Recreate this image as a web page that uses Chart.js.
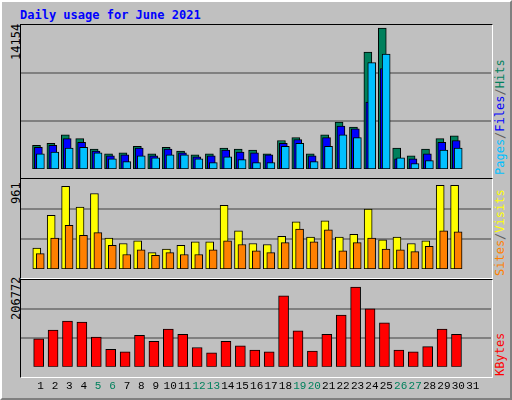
<!DOCTYPE html>
<html><head><meta charset="utf-8">
<script src="https://cdn.jsdelivr.net/npm/chart.js@4"></script>
<style>
body{margin:0;background:#fff}
#wrap{position:absolute;left:0;top:0;width:508px;height:396px;background:#c0c0c0;border-top:2px solid #fff;border-left:2px solid #fff;border-right:2px solid #808080;border-bottom:2px solid #808080}
.t{position:absolute;font-family:"DejaVu Sans Mono",monospace;font-size:12px;white-space:nowrap}
.rot{transform-origin:0 0;transform:rotate(-90deg)}
canvas{position:absolute}
.panel{position:absolute;left:20px;width:471px;border:1px solid #000;border-right-color:#fff;border-bottom-color:#fff}
</style></head><body>
<div id="wrap"></div>
<div class="t" style="left:20px;top:8px;color:#0000ff;font-weight:bold">Daily usage for June 2021</div>
<div class="panel" style="top:24px;height:153px"></div>
<div class="panel" style="top:178px;height:99px"></div>
<div class="panel" style="top:279px;height:97px"></div>
<div class="t rot" style="left:9px;top:60px;">14154</div>
<div class="t rot" style="left:9px;top:204px;">961</div>
<div class="t rot" style="left:9px;top:320px;">206772</div>
<div class="t rot" style="left:493px;top:175px;"><span style="color:#00c0ff">Pages</span><span style="color:#606060">/</span><span style="color:#0000ff">Files</span><span style="color:#606060">/</span><span style="color:#00805c">Hits</span></div>
<div class="t rot" style="left:493px;top:276px;"><span style="color:#ff8000">Sites</span><span style="color:#606060">/</span><span style="color:#ffff00">Visits</span></div>
<div class="t rot" style="left:493px;top:376px;"><span style="color:#ff0000">KBytes</span></div>
<canvas id="c1" style="left:21px;top:25px" width="470" height="152"></canvas>
<canvas id="c2" style="left:21px;top:179px" width="470" height="98"></canvas>
<canvas id="c3" style="left:21px;top:280px" width="470" height="118"></canvas>
<script>
const days=[1,2,3,4,5,6,7,8,9,10,11,12,13,14,15,16,17,18,19,20,21,22,23,24,25,26,27,28,29,30,31];
const weekend=[5,6,12,13,19,20,26,27];
const hits=[2330,2520,3370,2990,1950,1480,1580,2240,1480,2140,1760,1390,1480,2050,1950,1860,1480,2800,3090,1480,3370,4600,4120,11490,13850,2050,1290,1950,2990,3270,0];
const files=[2140,2330,2990,2610,1760,1290,1390,2050,1290,1950,1580,1200,1290,1860,1670,1580,1390,2520,2900,1290,3090,4220,3940,6580,9880,1010,1010,1480,2610,2800,0];
const pages=[1480,1670,2050,2140,1580,1010,730,1290,1100,1390,1390,1010,630,1200,920,630,630,2240,2520,730,2240,3370,3090,10450,11300,1100,540,820,1860,2050,0];
const visits=[223,573,884,660,806,330,272,301,175,214,252,291,291,680,408,272,262,350,505,340,515,340,369,641,311,340,272,301,893,893,0];
const sites=[165,330,466,359,388,252,155,204,146,175,155,155,204,301,262,194,175,282,427,291,417,194,282,330,214,204,185,243,408,398,0];
const kbytes=[66860,87740,108630,106540,71030,41780,35510,75200,60580,89830,77290,45960,33420,60580,50130,39690,35510,169210,85650,37600,77290,123250,190100,137870,104450,39690,35510,48050,89830,77290,0];
const maxes=[14154,961,206772];

function ds(vals,off,color,w,order){return{data:vals.map((v,i)=>({x:days[i]+off,y:v})),backgroundColor:color,borderColor:'#000',borderWidth:1,barThickness:w,grouped:false,borderSkipped:false,order:order};}
function mk(id,sets,max,showX){
  new Chart(document.getElementById(id),{type:'bar',data:{datasets:sets},
  options:{responsive:false,animation:false,events:[],layout:{padding:0},
   plugins:{legend:{display:false},tooltip:{enabled:false}},
   scales:{
    x:{type:'linear',min:0.17,max:31.74,border:{display:false},grid:{display:false},
       afterBuildTicks:s=>{s.ticks=days.map(d=>({value:d}));},
       ticks:{display:showX,padding:5,autoSkip:false,maxRotation:0,
         font:{family:'Liberation Mono',size:11},
         color:c=>weekend.includes(c.tick.value)?'#00805c':'#000',
         callback:v=>String(v)}},
    y:{min:0,max:max,border:{display:false},
       afterBuildTicks:s=>{s.ticks=[{value:max/3},{value:2*max/3}];},
       grid:{color:'#808080',lineWidth:2,drawTicks:false},ticks:{display:false}}
   }}});
}
mk('c1',[ds(hits,-0.28,'#00805c',8,3),ds(files,-0.15,'#0000ff',8,2),ds(pages,-0.01,'#00c0ff',8,1)],maxes[0],false);
mk('c2',[ds(visits,-0.26,'#ffff00',8,2),ds(sites,-0.02,'#ff8000',8,1)],maxes[1],false);
mk('c3',[ds(kbytes,-0.13,'#ff0000',10,1)],maxes[2],true);
</script></body></html>
